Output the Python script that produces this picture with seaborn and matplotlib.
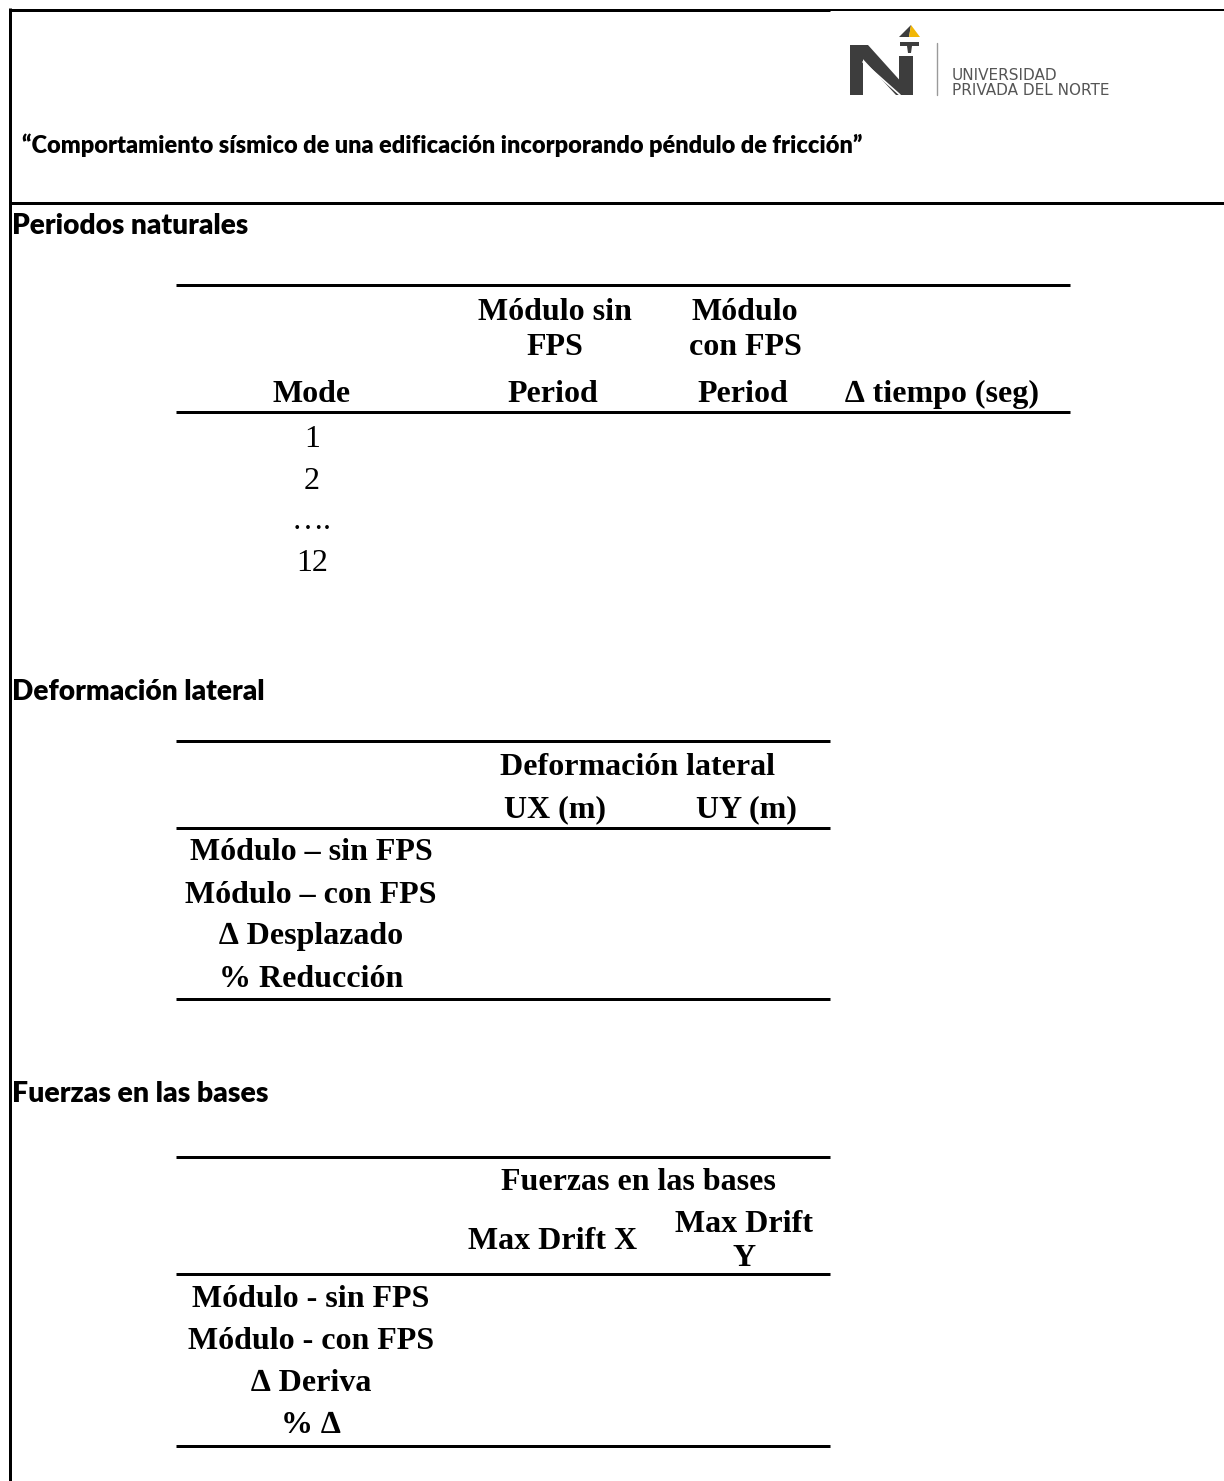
import matplotlib
matplotlib.use("Agg")
import matplotlib.pyplot as plt
import seaborn as sns
from matplotlib.patches import Polygon

# Texts of the sheet
title = "“Comportamiento sísmico de una edificación incorporando péndulo de fricción”"
sections = ["Periodos naturales", "Deformación lateral", "Fuerzas en las bases"]
logo_lines = ["UNIVERSIDAD", "PRIVADA DEL NORTE"]

# Table 1 - periodos naturales
t1_top = ["Módulo sin", "Módulo"]
t1_mid = ["FPS", "con FPS"]
t1_low = ["Mode", "Period", "Period", "∆ tiempo (seg)"]
t1_modes = ["1", "2", "….", "12"]

# Table 2 - deformacion lateral
t2_group = "Deformación lateral"
t2_columns = ["UX (m)", "UY (m)"]
t2_rows = ["Módulo – sin FPS", "Módulo – con FPS", "∆ Desplazado", "% Reducción"]

# Table 3 - fuerzas en las bases
t3_group = "Fuerzas en las bases"
t3_col_x = "Max Drift X"
t3_col_y = ["Max Drift", "Y"]
t3_rows = ["Módulo - sin FPS", "Módulo - con FPS", "∆ Deriva", "% ∆"]

sns.set_theme(style="white")
plt.rcParams['font.family'] = ['Liberation Serif', 'DejaVu Serif']
plt.rcParams['text.color'] = 'black'

fig = plt.figure(figsize=(12.24, 14.81), dpi=100, facecolor='white')
ax = fig.add_axes([0, 0, 1, 1])
ax.set_xlim(0, 1224)
ax.set_ylim(1481, 0)
ax.axis('off')
renderer = fig.canvas.get_renderer()

SERIF = ['Liberation Serif', 'DejaVu Serif']
SANS = ['Lato', 'DejaVu Sans']


def rule(x0, x1, y, px=3.0):
    ax.plot([x0, x1], [y, y], color='black', lw=px * 0.72, solid_capstyle='butt')


def cell(x, y, s, bold=True):
    ax.text(x, y, s, ha='center', va='baseline', fontsize=23,
            fontweight='bold' if bold else 'normal', family=SERIF, color='black')


def sans_fit(x, y, s, width, size=16):
    t = ax.text(x, y, s, ha='left', va='baseline', fontsize=size,
                family=SANS, fontweight='heavy', color='black')
    w = t.get_window_extent(renderer).width
    t.set_fontsize(size * width / w)
    return t


# Frame of the page
ax.plot([9, 830], [9.5, 9.5], color='black', lw=3 * 0.72, solid_capstyle='butt')
ax.plot([830, 1224], [9.5, 9.5], color='black', lw=2 * 0.72, solid_capstyle='butt')
ax.plot([10, 10], [8, 1481], color='black', lw=3 * 0.72, solid_capstyle='butt')
rule(10, 1224, 203)

# Logo
dark = '#3d3d3d'
ax.add_patch(Polygon([(850, 45), (863, 45), (863, 95), (850, 95)], closed=True, color=dark, lw=0))
ax.add_patch(Polygon([(850, 45), (868, 45), (913, 95), (896, 95)], closed=True, color=dark, lw=0))
ax.add_patch(Polygon([(899, 56), (913, 56), (913, 95), (899, 95)], closed=True, color=dark, lw=0))
ax.plot([863, 900], [62, 95], color='white', lw=1.2)
ax.add_patch(Polygon([(911, 25), (899, 37), (909, 37)], closed=True, color=dark, lw=0))
ax.add_patch(Polygon([(911, 25), (909, 37), (920, 37)], closed=True, color='#f2b705', lw=0))
ax.add_patch(Polygon([(900, 42), (919, 42), (919, 46), (900, 46)], closed=True, color=dark, lw=0))
ax.add_patch(Polygon([(907, 46), (912, 46), (911, 53), (908, 53)], closed=True, color=dark, lw=0))
ax.plot([937, 937], [43, 95], color='#9a9a9a', lw=1)
ax.text(952, 80, logo_lines[0], ha='left', va='baseline', fontsize=11,
        family=['DejaVu Sans'], color='#555555')
ax.text(952, 95, logo_lines[1], ha='left', va='baseline', fontsize=11,
        family=['DejaVu Sans'], color='#555555')

# Title and section headings
sans_fit(22, 153, title, 840)
sans_fit(12, 234, sections[0], 236)
sans_fit(12, 700, sections[1], 252)
sans_fit(12, 1102, sections[2], 256)

# Table 1
rule(176, 1070, 285)
cell(555, 320, t1_top[0])
cell(745, 320, t1_top[1])
cell(555, 355, t1_mid[0])
cell(745, 355, t1_mid[1])
for x, s in zip([312, 553, 743, 942], t1_low):
    cell(x, 402, s)
rule(176, 1070, 412)
for y, s in zip([447, 489, 529, 571], t1_modes):
    cell(312, y, s, bold=False)

# Table 2
rule(176, 830, 741)
cell(638, 775, t2_group)
cell(555, 817, t2_columns[0])
cell(746, 817, t2_columns[1])
rule(176, 830, 828)
for y, s in zip([860, 903, 944, 987], t2_rows):
    cell(311, y, s)
rule(176, 830, 999)

# Table 3
rule(176, 830, 1157)
cell(638, 1190, t3_group)
cell(553, 1249, t3_col_x)
cell(744, 1232, t3_col_y[0])
cell(744, 1266, t3_col_y[1])
rule(176, 830, 1274)
for y, s in zip([1307, 1349, 1391, 1433], t3_rows):
    cell(311, y, s)
rule(176, 830, 1446)

fig.savefig('out.png', dpi=100, facecolor='white')
